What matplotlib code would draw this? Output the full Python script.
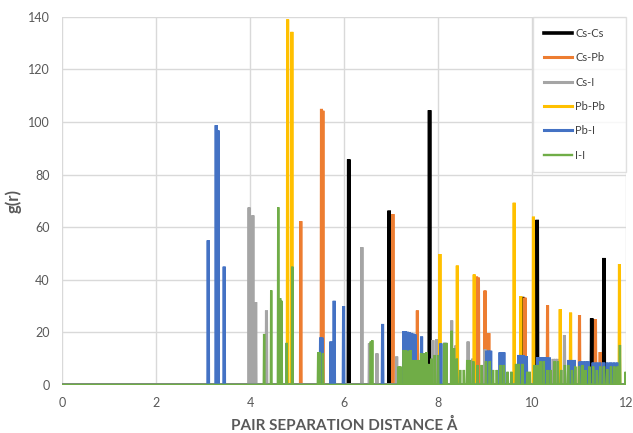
import numpy as np
import matplotlib
matplotlib.use("Agg")
import matplotlib.pyplot as plt

plt.rcParams['font.family'] = ['Lato', 'DejaVu Sans']

# peak positions (Å) and heights g(r), one pair of lists per series
cs_cs_r = [6.10, 6.96, 7.82, 9.80, 10.11, 11.27, 11.53]
cs_cs_g = [85.8, 66.3, 104.5, 33.5, 62.8, 25.3, 48.3]

cs_pb_r = [5.08, 5.52, 5.55, 7.04, 7.56, 8.82, 8.86, 9.00, 9.08, 9.85, 10.33,
           11.01, 11.35, 11.45]
cs_pb_g = [62.3, 105.0, 104.3, 65.0, 28.3, 41.2, 40.8, 35.9, 19.7, 33.2, 30.3,
           26.6, 25.0, 12.5]

cs_i_r = [3.98, 4.06, 4.12, 4.35, 6.38, 6.54, 6.70, 7.12, 7.89, 7.97, 8.29,
          8.38, 8.64, 8.74, 9.00, 10.45, 10.50, 10.55, 10.69]
cs_i_g = [67.5, 64.5, 31.5, 28.3, 52.4, 15.8, 12.0, 10.8, 17.0, 17.4, 24.5,
          15.0, 16.5, 10.0, 13.5, 9.9, 9.9, 9.9, 19.0]

pb_pb_r = [4.80, 4.89, 8.04, 8.41, 8.77, 9.62, 9.76, 10.03, 10.60, 10.82, 11.86]
pb_pb_g = [139.0, 134.3, 49.8, 45.4, 42.0, 69.3, 33.8, 64.0, 28.8, 27.5, 46.0]

pb_i_r = [3.11, 3.28, 3.32, 3.45, 5.50, 5.53, 5.72, 5.79, 5.99, 6.82,
          7.27, 7.31, 7.35, 7.39, 7.43, 7.47, 7.51, 7.65, 8.06, 8.15,
          9.04, 9.08, 9.12, 9.32, 9.36, 9.40, 9.72, 9.76, 9.82, 9.88,
          10.12, 10.17, 10.22, 10.27, 10.32, 10.37, 10.78, 10.84, 10.90,
          11.02, 11.08, 11.14, 11.20, 11.30, 11.37, 11.44, 11.52, 11.60,
          11.67, 11.74, 11.81]
pb_i_g = [55.0, 98.8, 96.8, 45.0, 18.0, 18.0, 16.5, 32.0, 30.0, 23.2,
          20.5, 20.3, 20.2, 20.0, 19.8, 19.5, 19.2, 18.4, 15.8, 16.0,
          13.0, 13.0, 13.0, 12.4, 12.4, 12.4, 11.4, 11.4, 11.2, 11.0,
          10.5, 10.5, 10.5, 10.5, 10.4, 10.4, 9.5, 9.5, 9.5,
          8.9, 8.9, 8.9, 8.9, 8.5, 8.5, 8.5, 8.5, 8.5,
          8.5, 8.5, 8.5]

i_i_r = [4.30, 4.45, 4.60, 4.64, 4.67, 4.78, 4.90, 5.45, 5.48, 5.55, 6.57,
         6.60, 7.16, 7.20, 7.27, 7.31, 7.36, 7.41, 7.46, 7.52, 7.58, 7.64,
         7.70, 7.75, 7.80, 7.86, 7.93, 8.00, 8.13, 8.18, 8.29, 8.34, 8.40,
         8.47, 8.55, 8.62, 8.68, 8.75, 8.84, 8.93, 9.02, 9.10, 9.17, 9.25,
         9.33, 9.40, 9.48, 9.56, 9.66, 9.72, 9.80, 9.90, 9.95, 10.05, 10.12,
         10.18, 10.25, 10.33, 10.40, 10.48, 10.55, 10.62, 10.70, 10.77,
         10.85, 10.92, 11.00, 11.07, 11.14, 11.22, 11.30, 11.38, 11.45,
         11.53, 11.60, 11.68, 11.75, 11.82, 11.87, 11.99]
i_i_g = [19.4, 36.0, 67.6, 33.0, 32.0, 16.0, 45.0, 12.5, 12.5, 12.0, 16.5,
         17.0, 7.0, 7.0, 13.3, 13.3, 13.0, 13.3, 9.5, 9.5, 9.5, 12.0,
         12.0, 12.5, 8.0, 10.0, 11.4, 11.4, 16.0, 16.0, 20.6, 14.0, 10.0,
         5.7, 5.7, 9.5, 9.5, 9.0, 7.6, 7.6, 9.0, 9.0, 5.7, 5.7,
         7.6, 7.6, 5.0, 5.0, 8.0, 8.0, 8.0, 5.0, 5.0, 7.6, 7.6,
         9.0, 9.0, 5.7, 5.7, 9.0, 9.0, 5.7, 7.6, 7.6,
         5.7, 7.0, 7.0, 7.6, 5.7, 7.0, 7.0, 5.7, 7.0,
         7.0, 6.0, 7.0, 7.0, 7.0, 15.2, 5.0]

series = [("Cs-Cs", cs_cs_r, cs_cs_g, "#000000", 2.6),
          ("Cs-Pb", cs_pb_r, cs_pb_g, "#ED7D31", 2.2),
          ("Cs-I", cs_i_r, cs_i_g, "#A5A5A5", 2.2),
          ("Pb-Pb", pb_pb_r, pb_pb_g, "#FFC000", 2.2),
          ("Pb-I", pb_i_r, pb_i_g, "#4472C4", 2.2),
          ("I-I", i_i_r, i_i_g, "#70AD47", 1.7)]


def spikes(r, g, half=0.008):
    # turn a list of peaks into a line that sits on zero between them
    xs, ys = [0.0], [0.0]
    for ri, gi in sorted(zip(r, g)):
        xs += [ri - half, ri, ri + half]
        ys += [0.0, gi, 0.0]
    xs.append(12.0)
    ys.append(0.0)
    return xs, ys


fig = plt.figure(figsize=(6.33, 4.33), dpi=100)
ax = fig.add_axes([0.098, 0.111, 0.891, 0.850])

for name, r, g, col, lw in series:
    xs, ys = spikes(r, g)
    ax.plot(xs, ys, color=col, lw=lw, label=name, solid_joinstyle='miter')

ax.set_xlim(0, 12)
ax.set_ylim(0, 140)
ax.set_xticks(np.arange(0, 13, 2))
ax.set_yticks(np.arange(0, 141, 20))
ax.grid(True, color="#d9d9d9", lw=1)
ax.set_axisbelow(True)
for s in ax.spines.values():
    s.set_visible(False)
ax.tick_params(length=0, labelsize=9, colors="#595959")
ax.tick_params(axis='y', pad=9)
ax.tick_params(axis='x', pad=9)

ax.set_xlabel("PAIR SEPARATION DISTANCE Å", fontsize=11, fontweight='bold',
              color="#595959", labelpad=6)
ax.set_ylabel("g(r)", fontsize=12, fontweight='bold', color="#595959",
              labelpad=4)

leg = ax.legend(loc='upper left', bbox_to_anchor=(0.835, 0.571, 0.165, 0.429),
                mode='expand', fontsize=8, frameon=True, fancybox=False,
                borderaxespad=0, borderpad=1.0, labelspacing=1.2,
                handlelength=2.5, handletextpad=0.3)
leg.get_frame().set_edgecolor("#d9d9d9")
leg.get_frame().set_linewidth(1)
for t in leg.get_texts():
    t.set_color("#404040")

fig.savefig("out.png", dpi=100)
